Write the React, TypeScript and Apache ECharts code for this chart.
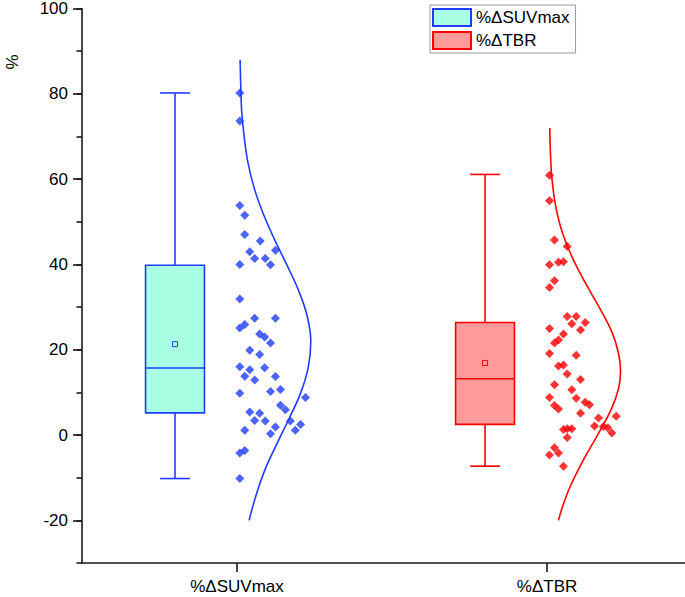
import React, { useEffect, useRef } from "react";
import * as echarts from "echarts";

// ---- data ----
const categories = ["%ΔSUVmax", "%ΔTBR"];
const categoryPos = [1, 2];
const yTickLabels = [-20, 0, 20, 40, 60, 80, 100];

// box statistics: [min, Q1, median, Q3, max]
const suvBox = [-10.2, 5.2, 15.7, 39.8, 80.2];
const suvMean = 21.3;
const tbrBox = [-7.3, 2.5, 13.2, 26.4, 61.1];
const tbrMean = 16.9;

// individual points (value) and their horizontal jitter offset from category
const suvValues = [
  80.2, 73.6, 53.8, 51.5, 47.0, 45.5, 43.3, 43.0, 41.4, 41.4, 39.9, 40.0,
  31.9, 27.4, 27.4, 25.1, 25.9, 23.7, 23.0, 21.6, 19.9, 18.9, 16.0, 15.3,
  13.8, 15.8, 12.9, 13.7, 9.8, 10.2, 10.7, 8.8, 7.0, 5.9, 5.4, 5.1, 3.4,
  3.3, 3.3, 1.9, 2.5, 1.1, 0.3, 1.1, -4.2, -3.6, -10.2,
];
const suvJitter = [
  0.009, 0.009, 0.009, 0.025, 0.025, 0.075, 0.124, 0.041, 0.057, 0.091, 0.108, 0.009,
  0.009, 0.057, 0.124, 0.009, 0.025, 0.073, 0.089, 0.108, 0.041, 0.073, 0.009, 0.041,
  0.025, 0.089, 0.057, 0.124, 0.009, 0.108, 0.14, 0.221, 0.14, 0.156, 0.041, 0.073, 0.057,
  0.091, 0.172, 0.124, 0.205, 0.188, 0.108, 0.025, 0.009, 0.025, 0.009,
];
const tbrValues = [
  60.9, 54.9, 45.7, 44.2, 39.9, 40.5, 40.6, 36.2, 34.6, 27.8, 27.8, 26.1,
  26.4, 24.6, 25.0, 23.7, 22.3, 21.6, 19.1, 18.7, 16.2, 16.4, 14.3, 13.0,
  11.8, 10.6, 8.8, 8.6, 7.7, 7.1, 6.9, 6.1, 5.1, 4.0, 4.4, 2.1, 2.0, 1.7,
  0.5, 1.3, 1.5, 1.5, -0.6, -3.0, -4.2, -4.7, -7.3,
];
const tbrJitter = [
  0.008, 0.008, 0.024, 0.065, 0.008, 0.037, 0.053, 0.024, 0.008, 0.065, 0.094, 0.08,
  0.123, 0.108, 0.008, 0.053, 0.037, 0.024, 0.008, 0.094, 0.037, 0.053, 0.065, 0.108,
  0.024, 0.08, 0.008, 0.094, 0.123, 0.137, 0.024, 0.037, 0.108, 0.166, 0.223, 0.153,
  0.182, 0.196, 0.209, 0.053, 0.065, 0.08, 0.065, 0.024, 0.037, 0.008, 0.053,
];

// distribution curves: value and horizontal width (offset from category)
const suvCurveValues = [88, 82, 76, 70, 64, 58, 52, 46, 40, 34, 28, 22, 16, 10, 4, -2, -8, -14, -20];
const suvCurveWidth = [0.010, 0.012, 0.015, 0.023, 0.035, 0.055, 0.084, 0.12, 0.16, 0.198, 0.226, 0.238, 0.23, 0.206, 0.169, 0.129, 0.091, 0.062, 0.039];
const tbrCurveValues = [72, 66, 60, 54, 48, 42, 36, 30, 24, 19, 15, 11, 6, 0, -6, -12, -17, -20];
const tbrCurveWidth = [0.009, 0.011, 0.016, 0.027, 0.047, 0.079, 0.121, 0.168, 0.21, 0.231, 0.237, 0.231, 0.207, 0.163, 0.116, 0.075, 0.049, 0.037];

// ---- styles ----
const FONT = "Liberation Sans, Arial, sans-serif";
const BLUE = "#1f3cff";
const MINT = "#a8ffe4";
const RED = "#ff0000";
const PINK = "#ff9a9a";
const BOX_OFFSET = -0.2;
const BOX_HALF = 0.095;
const CAP_HALF = 0.048;

function boxSeries(name: string, pos: number, box: number[], mean: number, stroke: string, fill: string) {
  return {
    type: "custom",
    name,
    data: [[pos + BOX_OFFSET, ...box, mean]],
    encode: { x: 0, y: [1, 2, 3, 4, 5] },
    z: 2,
    renderItem: (_params: any, api: any) => {
      const x = api.value(0);
      const mn = api.value(1), q1 = api.value(2), med = api.value(3), q3 = api.value(4), mx = api.value(5), mean = api.value(6);
      const tl = api.coord([x - BOX_HALF, q3]);
      const br = api.coord([x + BOX_HALF, q1]);
      const c = api.coord([x, med]);
      const pMax = api.coord([x, mx]);
      const pMin = api.coord([x, mn]);
      const capL = api.coord([x - CAP_HALF, mx])[0];
      const capR = api.coord([x + CAP_HALF, mx])[0];
      const pMean = api.coord([x, mean]);
      const ls = { stroke, lineWidth: 1.6, fill: "none" };
      return {
        type: "group",
        children: [
          { type: "line", shape: { x1: c[0], y1: tl[1], x2: c[0], y2: pMax[1] }, style: ls },
          { type: "line", shape: { x1: c[0], y1: br[1], x2: c[0], y2: pMin[1] }, style: ls },
          { type: "line", shape: { x1: capL, y1: pMax[1], x2: capR, y2: pMax[1] }, style: ls },
          { type: "line", shape: { x1: capL, y1: pMin[1], x2: capR, y2: pMin[1] }, style: ls },
          { type: "rect", shape: { x: tl[0], y: tl[1], width: br[0] - tl[0], height: br[1] - tl[1] }, style: { fill, stroke, lineWidth: 1.6 } },
          { type: "line", shape: { x1: tl[0], y1: c[1], x2: br[0], y2: c[1] }, style: ls },
          { type: "rect", shape: { x: pMean[0] - 2.5, y: pMean[1] - 2.5, width: 5, height: 5 }, style: { fill, stroke, lineWidth: 1 } },
        ],
      };
    },
  };
}

function curveSeries(name: string, pos: number, values: number[], widths: number[], color: string) {
  return {
    type: "line",
    name,
    data: values.map((v, i) => [pos + widths[i], v]),
    smooth: 0.4,
    showSymbol: false,
    symbol: "none",
    lineStyle: { color, width: 1.6 },
    z: 3,
    silent: true,
  };
}

function pointSeries(name: string, pos: number, values: number[], jitter: number[], color: string) {
  return {
    type: "scatter",
    name,
    data: values.map((v, i) => [pos + jitter[i], v]),
    symbol: "diamond",
    symbolSize: 9,
    itemStyle: { color },
    z: 4,
  };
}

export default function App() {
  const ref = useRef<HTMLDivElement>(null);
  useEffect(() => {
    if (!ref.current) return;
    const chart = echarts.init(ref.current, null, { renderer: "svg" });
    const axisLine = { show: true, onZero: false, lineStyle: { color: "#1a1a1a", width: 1.6 } };
    chart.setOption({
      animation: false,
      backgroundColor: "#ffffff",
      textStyle: { fontFamily: FONT },
      grid: { left: 82, right: 0, top: 5, bottom: 34, containLabel: false },
      legend: {
        orient: "vertical",
        left: 430,
        top: 5,
        itemWidth: 38,
        itemHeight: 17,
        itemGap: 4,
        padding: [3, 6, 3, 2],
        borderColor: "#999",
        borderWidth: 1,
        selectedMode: false,
        textStyle: { fontSize: 17, color: "#000", fontFamily: FONT, padding: [0, 0, 0, 0] },
        data: [
          { name: categories[0], icon: "rect", itemStyle: { color: MINT, borderColor: BLUE, borderWidth: 2 } },
          { name: categories[1], icon: "rect", itemStyle: { color: PINK, borderColor: RED, borderWidth: 2 } },
        ],
      },
      xAxis: {
        type: "value",
        min: 0.5,
        max: 2.445,
        axisLine,
        splitLine: { show: false },
        axisTick: { show: true, length: 9, inside: false, customValues: categoryPos, lineStyle: { color: "#1a1a1a", width: 1.6 } },
        axisLabel: {
          show: true,
          customValues: categoryPos,
          margin: 15,
          fontSize: 17,
          color: "#000",
          fontFamily: FONT,
          formatter: (v: number) => {
            const i = categoryPos.indexOf(Math.round(v * 1000) / 1000);
            return i >= 0 ? categories[i] : "";
          },
        },
      },
      yAxis: [
        {
          type: "value",
          min: -30,
          max: 100,
          interval: 10,
          axisLine,
          splitLine: { show: false },
          axisTick: { show: true, length: 5.5, lineStyle: { color: "#1a1a1a", width: 1.6 } },
          axisLabel: {
            margin: 14,
            fontSize: 17,
            color: "#000",
            fontFamily: FONT,
            formatter: (v: number) => (yTickLabels.indexOf(v) >= 0 ? String(v) : ""),
          },
        },
        {
          type: "value",
          min: -30,
          max: 100,
          position: "left",
          axisLine: { show: false },
          splitLine: { show: false },
          axisLabel: { show: false },
          axisTick: { show: true, length: 9, customValues: yTickLabels, lineStyle: { color: "#1a1a1a", width: 1.6 } },
        },
      ],
      graphic: [
        {
          type: "text",
          x: 12,
          y: 62,
          rotation: Math.PI / 2,
          style: { text: "%", fontSize: 17, fontFamily: FONT, fill: "#000", textAlign: "center", textVerticalAlign: "middle" },
        },
      ],
      series: [
        boxSeries(categories[0], categoryPos[0], suvBox, suvMean, BLUE, MINT),
        boxSeries(categories[1], categoryPos[1], tbrBox, tbrMean, RED, PINK),
        curveSeries("suvCurve", categoryPos[0], suvCurveValues, suvCurveWidth, BLUE),
        curveSeries("tbrCurve", categoryPos[1], tbrCurveValues, tbrCurveWidth, RED),
        pointSeries("suvPoints", categoryPos[0], suvValues, suvJitter, BLUE),
        pointSeries("tbrPoints", categoryPos[1], tbrValues, tbrJitter, RED),
      ],
    });
    return () => chart.dispose();
  }, []);
  return <div ref={ref} style={{ position: "fixed", left: 0, top: 0, width: 685, height: 597 }} />;
}
